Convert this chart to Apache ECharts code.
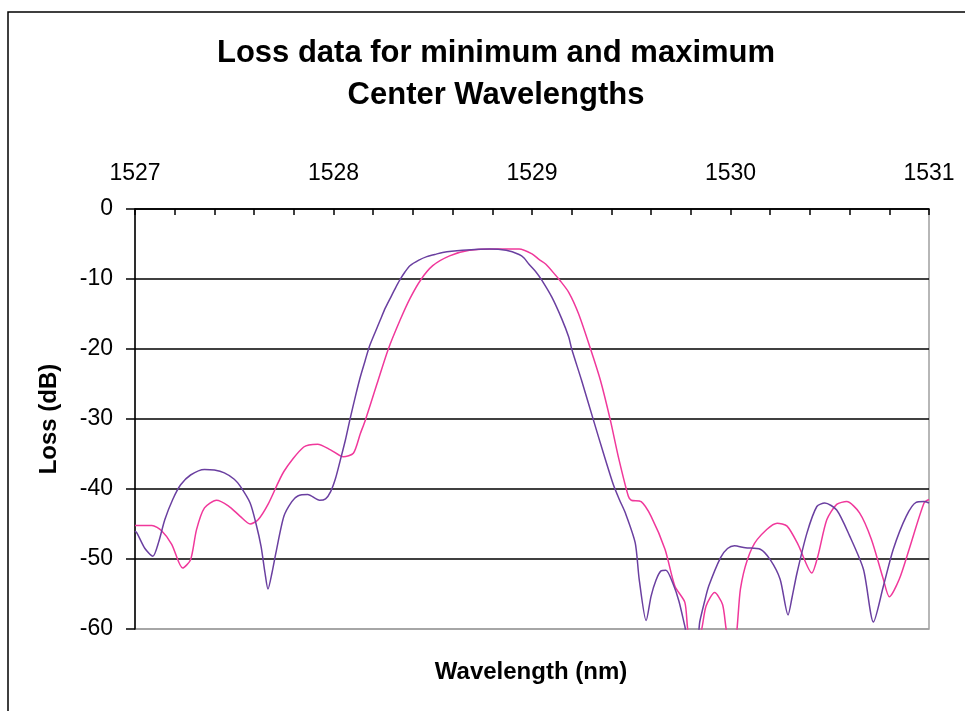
<!DOCTYPE html>
<html>
<head>
<meta charset="utf-8">
<script src="https://cdn.jsdelivr.net/npm/echarts@6/dist/echarts.min.js"></script>
<style>
html,body{margin:0;padding:0;background:#fff;}
#chart{width:965px;height:711px;}
</style>
</head>
<body>
<div id="chart"></div>
<script>
// Tick labels / axis settings
var xTicks = [1527, 1528, 1529, 1530, 1531];
var yTicks = [0, -10, -20, -30, -40, -50, -60];

// Series 1 (purple) — minimum center wavelength
var purpleX = [1527.00,1527.01,1527.05,1527.09,1527.12,1527.15,1527.19,1527.23,1527.28,1527.35,1527.40,1527.45,1527.50,1527.53,1527.58,1527.61,1527.635,1527.655,1527.67,1527.69,1527.71,1527.75,1527.79,1527.82,1527.87,1527.93,1527.96,1527.985,1528.01,1528.035,1528.06,1528.085,1528.11,1528.135,1528.16,1528.18,1528.21,1528.235,1528.26,1528.285,1528.31,1528.335,1528.36,1528.385,1528.43,1528.47,1528.51,1528.55,1528.65,1528.785,1528.87,1528.935,1528.96,1528.985,1529.02,1529.05,1529.10,1529.15,1529.185,1529.20,1529.25,1529.31,1529.36,1529.41,1529.44,1529.47,1529.52,1529.54,1529.575,1529.60,1529.625,1529.65,1529.675,1529.71,1529.74,1529.77,1529.79,1529.83,1529.845,1529.87,1529.89,1529.95,1529.985,1530.02,1530.075,1530.15,1530.20,1530.25,1530.29,1530.31,1530.335,1530.385,1530.435,1530.475,1530.535,1530.60,1530.67,1530.72,1530.77,1530.82,1530.885,1530.935,1530.975,1531.00];
var purpleY = [-46.0,-46.3,-48.5,-49.6,-47.5,-44.4,-41.5,-39.4,-38.0,-37.2,-37.3,-37.7,-38.6,-39.6,-42.0,-45.0,-48.2,-52.0,-54.3,-52.0,-49.1,-43.9,-41.8,-41.0,-40.8,-41.6,-41.4,-40.4,-38.5,-35.8,-33.0,-29.8,-26.8,-24.0,-21.6,-19.7,-17.6,-15.9,-14.2,-12.8,-11.4,-10.1,-9.0,-8.1,-7.3,-6.8,-6.5,-6.2,-5.9,-5.7,-5.9,-6.5,-7.0,-7.9,-9.0,-10.2,-12.6,-15.7,-18.3,-20.0,-24.5,-30.2,-34.9,-39.4,-41.5,-43.4,-47.7,-52.9,-58.8,-55.3,-53.0,-51.7,-51.6,-53.5,-56.0,-59.6,-62.0,-62.0,-59.0,-56.0,-53.9,-49.8,-48.5,-48.1,-48.4,-48.6,-50.1,-52.9,-58.0,-55.5,-52.0,-46.3,-42.5,-42.0,-43.0,-46.7,-51.5,-59.0,-53.9,-48.6,-43.9,-41.9,-41.8,-42.0];

// Series 2 (magenta) — maximum center wavelength
var magentaX = [1527.00,1527.085,1527.135,1527.185,1527.24,1527.28,1527.31,1527.35,1527.41,1527.47,1527.53,1527.58,1527.62,1527.67,1527.75,1527.85,1527.92,1527.985,1528.05,1528.10,1528.135,1528.16,1528.22,1528.275,1528.335,1528.385,1528.44,1528.50,1528.585,1528.685,1528.82,1528.935,1529.00,1529.035,1529.07,1529.12,1529.135,1529.185,1529.235,1529.295,1529.345,1529.395,1529.435,1529.485,1529.50,1529.55,1529.60,1529.67,1529.72,1529.77,1529.79,1529.83,1529.855,1529.877,1529.92,1529.96,1529.985,1530.02,1530.05,1530.085,1530.135,1530.235,1530.285,1530.34,1530.41,1530.44,1530.485,1530.535,1530.585,1530.65,1530.71,1530.77,1530.80,1530.85,1530.90,1530.975,1531.00];
var magentaY = [-45.2,-45.2,-46.0,-47.9,-51.3,-50.1,-45.8,-42.7,-41.6,-42.4,-43.9,-45.0,-44.4,-42.2,-37.5,-34.0,-33.6,-34.4,-35.4,-34.9,-32.1,-30.2,-24.9,-20.1,-15.9,-12.8,-10.1,-8.1,-6.7,-5.9,-5.7,-5.7,-6.4,-7.2,-7.9,-9.5,-10.0,-11.9,-15.0,-20.0,-24.5,-30.2,-35.4,-41.0,-41.6,-41.8,-43.9,-48.6,-53.9,-56.2,-61.0,-62.0,-60.0,-56.7,-54.8,-56.5,-61.0,-62.0,-54.3,-50.1,-47.2,-44.9,-45.3,-47.9,-52.0,-49.6,-44.4,-42.2,-41.8,-43.4,-47.2,-52.9,-55.4,-52.9,-48.6,-42.0,-41.5];

function zip(xs, ys){ var out=[]; for(var i=0;i<xs.length;i++) out.push([xs[i], ys[i]]); return out; }

var chart = echarts.init(document.getElementById('chart'), null, {renderer:'canvas'});
var FONT = 'Liberation Sans, Arial, sans-serif';

chart.setOption({
  animation: false,
  backgroundColor: '#ffffff',
  title: {
    text: 'Loss data for minimum and maximum\nCenter Wavelengths',
    left: 491, top: 27, textAlign: 'center',
    textStyle: {fontFamily: FONT, fontSize: 31, fontWeight: 'bold', color: '#000', lineHeight: 42}
  },
  graphic: [
    {type:'rect', z: -10, silent: true, shape:{x:8, y:12, width:1000, height:800}, style:{fill:'none', stroke:'#000', lineWidth:1.5}},
    {type:'text', x:531, y:672, style:{text:'Wavelength (nm)', font:'bold 24px Liberation Sans, Arial, sans-serif', fill:'#000', textAlign:'center', textVerticalAlign:'middle'}}
  ],
  grid: {left:135, top:209, right:36, bottom:82, show:true, backgroundColor:'#fff', borderColor:'#a0a0a0', borderWidth:1.5},
  xAxis: {
    type:'value', position:'top', min: xTicks[0], max: xTicks[xTicks.length-1], interval: 0.2,
    axisLine:{show:true, lineStyle:{color:'#000', width:1.5}},
    axisTick:{show:true, inside:true, length:6, lineStyle:{color:'#000', width:1.5}},
    axisLabel:{show:true, margin:24, fontFamily:FONT, fontSize:23, color:'#000',
      formatter:function(v){ var r=Math.round(v); return (Math.abs(v-r)<1e-6 && xTicks.indexOf(r)>=0) ? String(r) : ''; }},
    splitLine:{show:false}
  },
  yAxis: {
    type:'value', min: yTicks[yTicks.length-1], max: yTicks[0], interval: 10,
    name:'Loss (dB)', nameLocation:'middle', nameGap:74, nameRotate:90,
    nameTextStyle:{fontFamily:FONT, fontSize:24, fontWeight:'bold', color:'#000'},
    axisLine:{show:true, lineStyle:{color:'#000', width:1.5}},
    axisTick:{show:true, inside:false, length:9, lineStyle:{color:'#000', width:1.5}},
    axisLabel:{margin:22, fontFamily:FONT, fontSize:23, color:'#000'},
    splitLine:{show:true, lineStyle:{color:['#a0a0a0','#000','#000','#000','#000','#000','#000'], width:1.5}}
  },
  series: [
    {name:'max', type:'line', data: zip(magentaX, magentaY), showSymbol:false, symbol:'none', clip:true, smooth:0.25,
     lineStyle:{color:'#F0389B', width:1.5}},
    {name:'min', type:'line', data: zip(purpleX, purpleY), showSymbol:false, symbol:'none', clip:true, smooth:0.25,
     lineStyle:{color:'#6A3FA0', width:1.5}}
  ]
});
</script>
</body>
</html>
